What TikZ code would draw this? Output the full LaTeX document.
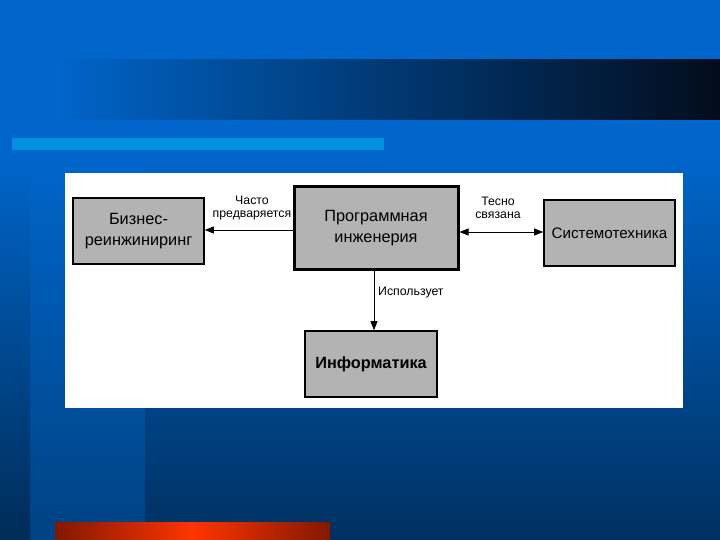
\documentclass[tikz,border=0pt]{standalone}
\usepackage{fontspec}
\setmainfont{Liberation Sans}
\usetikzlibrary{arrows.meta}
\definecolor{bgtop}{RGB}{0,102,204}
\definecolor{bgmid}{RGB}{0,92,184}
\definecolor{bgbot}{RGB}{0,48,96}
\definecolor{bandbot}{RGB}{0,66,130}
\definecolor{edgebot}{RGB}{0,44,88}
\definecolor{barleft}{RGB}{0,100,200}
\definecolor{barright}{RGB}{2,12,28}
\definecolor{lightbar}{RGB}{0,146,222}
\definecolor{reddark}{RGB}{130,24,0}
\definecolor{redlight}{RGB}{255,52,0}
\definecolor{boxgray}{RGB}{179,179,179}
\tikzset{
  box/.style={draw=black, fill=boxgray, line width=1.6pt, align=center,
    font=\fontsize{16.3}{21}\selectfont, inner sep=0pt},
  lbl/.style={align=center, font=\fontsize{12.3}{13.5}\selectfont, inner sep=0pt},
  arr/.style={line width=0.8pt, -{Triangle[length=9pt,width=7pt]}},
  darr/.style={line width=0.8pt, {Triangle[length=9pt,width=7pt]}-{Triangle[length=9pt,width=7pt]}}
}
\begin{document}
\begin{tikzpicture}[x=1pt,y=-1pt]
\useasboundingbox (0,0) rectangle (720,540);
% background
\fill[bgtop] (0,0) rectangle (720,150);
\shade[top color=bgtop, bottom color=bgbot] (0,150) rectangle (720,540);
\shade[top color=bgtop, bottom color=bandbot] (30,150) rectangle (145,540);
\shade[top color=bgtop, bottom color=edgebot] (0,150) rectangle (30,540);
\shade[left color=barleft, right color=barright] (60,60) rectangle (720,120);
\fill[lightbar] (12,138) rectangle (384,150);
\shade[left color=reddark, right color=reddark, middle color=redlight] (55,522) rectangle (330,540);
% white panel
\fill[white] (65,173) rectangle (683,408);
% nodes
\node[box, minimum width=131, minimum height=66] (biz) at (138.5,231) {Бизнес-\\реинжиниринг};
\node[box, line width=3pt, minimum width=164, minimum height=82] (main) at (376,228) {Программная\\инженерия};
\node[box, minimum width=131, minimum height=66, font=\fontsize{15.2}{21}\selectfont] (sys) at (609.5,233) {Системотехника};
\node[box, minimum width=132, minimum height=66, font=\fontsize{16.3}{21}\selectfont\bfseries] (info) at (371,364) {Информатика};
% connectors
\draw[arr] ([yshift=-2]main.west) -- ([yshift=-2]main.west -| biz.east);
\draw[darr] ([yshift=-4]main.east) -- ([yshift=-4]main.east -| sys.west);
\draw[arr] ([xshift=-2]main.south) -- ([xshift=-2]main.south |- info.north);
% labels
\node[lbl] (l1) at (252,208) {Часто\\предваряется};
\node[lbl] (l2) at (498,208) {Тесно\\связана};
\node[lbl, anchor=west] (l3) at (378,293) {Использует};
\end{tikzpicture}
\end{document}
